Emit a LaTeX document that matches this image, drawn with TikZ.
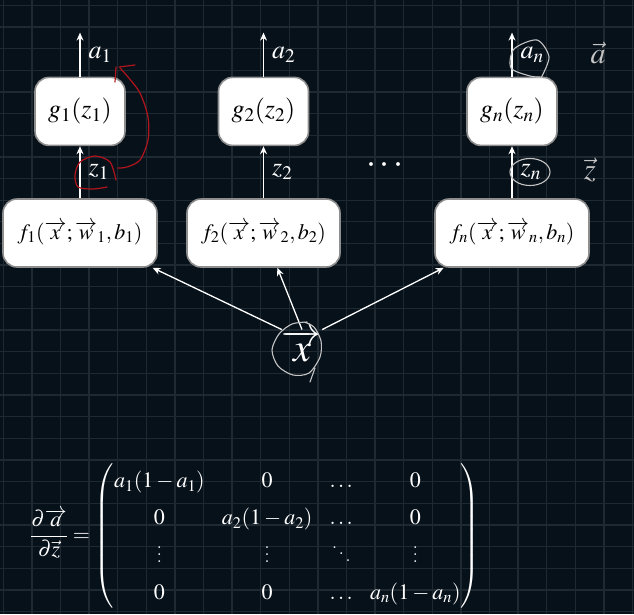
\documentclass[tikz,border=0pt]{standalone}
\usepackage{amsmath}
\usepackage{mathptmx}
\usetikzlibrary{positioning}
\usetikzlibrary{arrows.meta}

\definecolor{board}{HTML}{07111A}
\definecolor{gridc}{HTML}{1E2931}
\definecolor{chalk}{HTML}{C4C4C4}
\definecolor{redink}{HTML}{B0141C}
\definecolor{boxedge}{HTML}{8E8E8E}

\newcommand{\colvdots}{\vbox{\baselineskip7pt\lineskiplimit0pt\kern5pt\hbox{.}\hbox{.}\hbox{.}}}
\newcommand{\colddots}{\mathinner{\mkern1mu\raise14pt\hbox{.}\mkern1mu\raise7.5pt\hbox{.}\mkern1mu\raise1pt\hbox{.}\mkern1mu}}

\begin{document}
\begin{tikzpicture}[
        x = 1pt, y = 1pt,
        unit/.style = {
            draw = boxedge,
            fill = white,
            line width = 1.6pt,
            rounded corners = 14pt,
            minimum width = #1,
            minimum height = 68pt,
            inner sep = 0pt,
            font = \fontsize{26}{30}\selectfont
        },
        unit/.default = 90pt,
        wide/.style = {unit = #1, font = \fontsize{22}{26}\selectfont},
        flow/.style = {->, white, line width = 1.3pt},
        tag/.style = {white, font = \fontsize{26}{30}\selectfont, inner sep = 2pt},
        ink/.style = {redink, line width = 1.2pt, line cap = round},
        chalkline/.style = {chalk, line width = 1.1pt, line cap = round},
        >={Stealth[length=8pt, width=7pt]}
        ]
%
        \useasboundingbox[fill=board] (0,0) rectangle (634,-614);
        \foreach \i in {0,...,22}
            \draw[gridc, line width=1.3pt] (3.3+28.6*\i,0) -- (3.3+28.6*\i,-614);
        \foreach \j in {0,...,28}
            \draw[gridc, line width=1.3pt] (0,-5.3-21.65*\j) -- (634,-5.3-21.65*\j);
%
        \node[wide=154pt] (f1) at (80,-233) {$f_1(\overrightarrow{x}; \overrightarrow{w}_1, b_1)$};
        \node[wide=153pt] (f2) at (263.5,-233) {$f_2(\overrightarrow{x}; \overrightarrow{w}_2, b_2)$};
        \node[wide=154pt] (fn) at (512,-233) {$f_n(\overrightarrow{x}; \overrightarrow{w}_n, b_n)$};
%
        \node[unit] (g1) [above=52pt of f1] {$g_1(z_1)$};
        \node[unit] (g2) [above=52pt of f2] {$g_2(z_2)$};
        \node[unit] (gn) [above=52pt of fn] {$g_n(z_n)$};
%
        \coordinate[above=44pt of g1] (a1top);
        \coordinate[above=44pt of g2] (a2top);
        \coordinate[above=44pt of gn] (antop);
%
        \draw[flow] (f1) -- (g1) node[tag, midway, right, xshift=6pt] {$z_1$};
        \draw[flow] (f2) -- (g2) node[tag, midway, right, xshift=6pt] {$z_2$};
        \draw[flow] (fn) -- (gn) node[tag, midway, right, xshift=6pt] {$z_n$};
        \draw[flow] (g1) -- (a1top) node[tag, midway, right, xshift=6pt] {$a_1$};
        \draw[flow] (g2) -- (a2top) node[tag, midway, right, xshift=6pt] {$a_2$};
        \draw[flow] (gn) -- (antop) node[tag, midway, right, xshift=6pt] {$a_n$};
%
        \node[tag, font=\fontsize{36}{36}\selectfont] (dots) at (387,-166) {$\cdots$};
%
        \node[white, inner sep=0pt, font=\fontsize{40}{40}\selectfont] (xvec) at (302,-346) {$\overrightarrow{x}$};
        \draw[flow] (xvec.north west) -- (f1);
        \draw[flow] (xvec.north) -- (f2);
        \draw[flow] (xvec.north east) -- (fn);
%
        \node[white, inner sep=0pt, font=\fontsize{22}{26}\selectfont] (jac) at (255,-536)
            {\setlength{\arraycolsep}{8.6pt}\renewcommand{\arraystretch}{1.43}%
            $\dfrac{\partial\overrightarrow{a}}{\partial\vec{z}} =
            \begin{pmatrix}
                a_1(1-a_1) & 0 & \ldots & 0\\
                0 & a_2(1-a_2) & \ldots & 0\\
                \colvdots & \colvdots & \colddots & \colvdots\\
                0 & 0 & \ldots & a_n(1-a_n)
            \end{pmatrix}$};
%
% hand notes
        \draw[ink] plot[smooth] coordinates {(116,-180) (110,-162) (95,-156) (80,-162) (75,-175) (78,-187) (93,-189) (107,-187)};
        \draw[ink] plot[smooth] coordinates {(118,-168) (127,-167) (140,-160) (148,-140) (148,-117) (140,-93) (128,-77) (120,-68)};
        \draw[ink] (119,-67) -- (135,-65);
        \draw[ink] (116,-67) -- (115,-82);
%
        \draw[chalkline] plot[smooth] coordinates {(541,-78) (549,-57) (537,-40) (514,-49) (511,-68) (530,-76) (540,-77)};
        \draw[chalkline] (530,-172) ellipse (20 and 13.5);
        \draw[chalkline] plot[smooth] coordinates {(307,-322) (292,-324) (279,-334) (272,-350) (278,-366) (293,-375) (309,-373) (320,-357) (321,-341) (314,-327) (304,-322)};
        \draw[chalkline] (315,-368) -- (310,-382);
%
        \node[chalk, font=\fontsize{30}{30}\selectfont] (avec) at (598,-53) {$\vec{a}$};
        \node[chalk, font=\fontsize{30}{30}\selectfont] (zvec) at (590,-170) {$\vec{z}$};
    \end{tikzpicture}
\end{document}
